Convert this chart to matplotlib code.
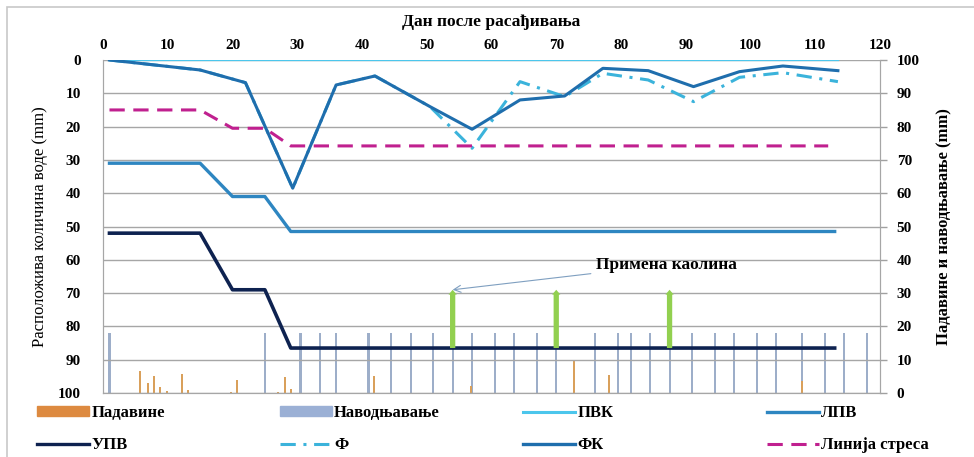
import matplotlib
matplotlib.use('Agg')
import matplotlib.pyplot as plt
from matplotlib.patches import Patch, Rectangle
from matplotlib.lines import Line2D

plt.rcParams['font.family'] = ['Liberation Serif', 'DejaVu Serif']
plt.rcParams['font.weight'] = 'bold'

# days after transplanting
days_lines = [1, 15, 20, 25, 29, 113]
lpv = [31, 31, 41, 41, 51.5, 51.5]          # ЛПВ
upv = [52, 52, 69, 69, 86.5, 86.5]          # УПВ
pvk_days = [1, 113.5]
pvk = [0, 0]                                # ПВК
stress_days = [1, 15, 20, 25, 29, 112]
stress = [15, 15, 20.5, 20.5, 25.8, 25.8]   # Линија стреса

f_days = [1, 15, 22, 29.3, 36, 42, 50.5, 57, 64.4, 71.3, 77.2, 84.2, 91.2, 98.3, 105, 113.5]
fk = [0, 3, 6.8, 38.5, 7.5, 4.8, 14, 20.8, 12, 10.8, 2.5, 3.2, 8, 3.5, 1.8, 3.2]     # ФК
f = [0, 3, 6.8, 38.5, 7.5, 4.8, 14, 26.5, 6.5, 11, 4, 6, 12.5, 5.2, 3.8, 6.5]        # Ф

# right axis: precipitation and irrigation (mm)
rain_days = [5.7, 6.9, 7.9, 8.8, 9.9, 12.2, 13.2, 19.7, 20.7, 27, 28.1, 29.1, 41.9, 56.9, 72.7, 78.1, 107.9]
rain = [6.7, 3.1, 5.1, 1.9, 0.5, 5.7, 0.8, 0.3, 3.9, 0.4, 4.7, 1.2, 5.1, 2.1, 9.7, 5.4, 3.7]
irr_days = [1, 25, 30.5, 33.5, 36, 41, 44.5, 47.5, 51, 54, 57, 60.5, 63.5, 67, 70, 76, 79.5,
            81.5, 84.5, 87.5, 91, 94.5, 97.5, 101, 104, 108, 111.5, 114.5, 118]
irr = [18] * len(irr_days)

kaolin_days = [54, 70, 87.5]
kaolin_from = 86.5
kaolin_to = 69

c_rain = '#D9A05B'
c_irr = '#9DAEC9'
c_pvk = '#4CC6EC'
c_lpv = '#2E86C1'
c_upv = '#0E2250'
c_f = '#3BB3DB'
c_fk = '#1F6EAD'
c_stress = '#C0208F'
f_dash = (5, 2.5, 1, 2.5)
stress_dash = (5, 2.8)

fig = plt.figure(figsize=(9.74, 4.57), dpi=100)
ax = fig.add_axes([103 / 974, 1 - 393 / 457, 777 / 974, 333 / 457])
ax2 = ax.twinx()
ax.set_zorder(ax2.get_zorder() + 1)
ax.patch.set_visible(False)

# bars on the right axis
ax2.bar(irr_days, irr, width=0.32, color=c_irr, zorder=2)
ax2.bar(rain_days, rain, width=0.3, color=c_rain, zorder=3)
ax2.set_ylim(0, 100)
ax2.set_yticks(range(0, 101, 10))
ax2.tick_params(axis='y', length=5, width=1, color='#A0A0A0', pad=7, labelsize=11)

# lines on the left axis
ax.plot(pvk_days, pvk, color=c_pvk, lw=1.6)
ax.plot(days_lines, lpv, color=c_lpv, lw=2.4)
ax.plot(days_lines, upv, color=c_upv, lw=2.6)
ax.plot(f_days, f, color=c_f, lw=2.2, dashes=f_dash)
ax.plot(f_days, fk, color=c_fk, lw=2.2)
ax.plot(stress_days, stress, color=c_stress, lw=2.2, dashes=stress_dash)

for d in kaolin_days:
    ax.annotate('', xy=(d, kaolin_to), xytext=(d, kaolin_from),
                arrowprops=dict(arrowstyle='simple,head_length=0.35,head_width=0.6,tail_width=0.38',
                                mutation_scale=10, color='#92D050', lw=0, shrinkA=0, shrinkB=0))

ax.annotate('Примена каолина', xy=(kaolin_days[0], kaolin_to), xytext=(76.2, 61.5),
            fontsize=12.5, ha='left', va='center',
            arrowprops=dict(arrowstyle='->', color='#7F9FC0', lw=0.8, shrinkA=2, shrinkB=0))

ax.set_xlim(0, 120)
ax.set_ylim(100, 0)
ax.set_yticks(range(0, 101, 10))
ax.set_xticks(range(0, 121, 10))
ax.xaxis.tick_top()
ax.xaxis.set_label_position('top')
ax.tick_params(axis='x', length=0, pad=6, labelsize=11)
ax.tick_params(axis='y', length=0, pad=16, labelsize=11)
ax.grid(axis='y', color='#A6A6A6', lw=1)
ax.set_axisbelow(True)
ax.set_xlabel('Дан после расађивања', fontsize=12.5, fontweight='bold', labelpad=9)
ax.set_ylabel('Расположива количина воде (mm)', fontsize=12, fontweight='normal', labelpad=7)
ax2.set_ylabel('Падавине и наводњавање (mm)', fontsize=12, fontweight='bold', labelpad=12)

for a in (ax, ax2):
    a.spines['top'].set_visible(False)
    a.spines['left'].set_color('#A6A6A6')
    a.spines['right'].set_color('#A6A6A6')
    a.spines['bottom'].set_color('#A6A6A6')

# legend below the plot: four columns, two rows
legend_cols = [
    ([Patch(color='#DD8A40'), Line2D([], [], color=c_upv, lw=2.4)], ['Падавине', 'УПВ']),
    ([Patch(color='#9BB0D5'), Line2D([], [], color=c_f, lw=2.2, dashes=f_dash)], ['Наводњавање', 'Ф']),
    ([Line2D([], [], color=c_pvk, lw=2.2), Line2D([], [], color=c_fk, lw=2.4)], ['ПВК', 'ФК']),
    ([Line2D([], [], color=c_lpv, lw=2.4), Line2D([], [], color=c_stress, lw=2.2, dashes=stress_dash)],
     ['ЛПВ', 'Линија стреса']),
]
col_x = [37, 280, 523, 767]
for (h, l), x in zip(legend_cols, col_x):
    fig.legend(h, l, loc='upper left', bbox_to_anchor=(x / 974, 1 - 405 / 457), frameon=False,
               fontsize=12, handlelength=3.1, handleheight=0.5, handletextpad=0.15,
               labelspacing=0.95, borderaxespad=0, borderpad=0)

# light frame round the chart
fig.patches.append(Rectangle((7 / 974, -0.02), 1.0, 1 - 7 / 457 + 0.02, transform=fig.transFigure,
                             fill=False, edgecolor='#C8C8C8', lw=1.2))

fig.savefig('out.png', dpi=100)
